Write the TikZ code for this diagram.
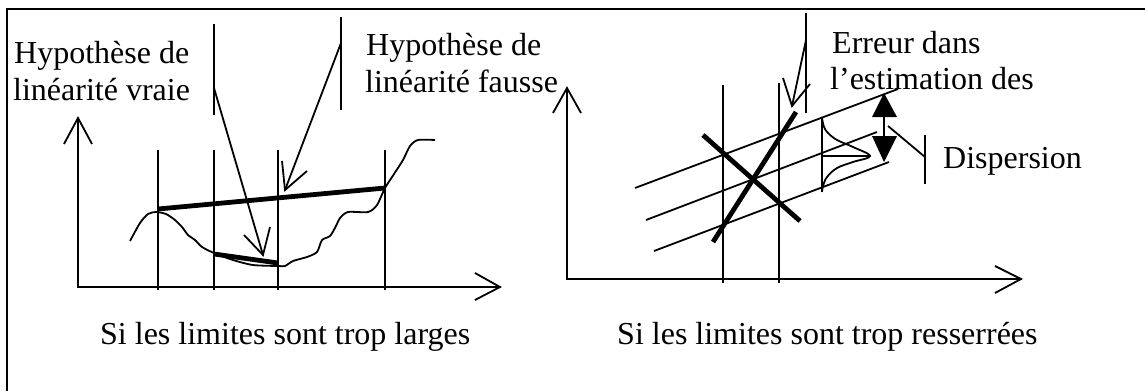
\documentclass[tikz,border=0pt]{standalone}
\usepackage{fontspec}
\setmainfont{Liberation Serif}
\begin{document}
\begin{tikzpicture}[x=1pt,y=-1pt,
  thinln/.style={line width=1.8pt},
  thickln/.style={line width=4.8pt},
  framel/.style={line width=2.2pt},
  lbl/.style={font=\fontsize{32}{37}\selectfont, inner sep=0pt, anchor=base west},
  solidhead/.style={fill=black}]
\useasboundingbox (0,0) rectangle (1145,391);

% frame
\coordinate (F1) at (7,391);
\coordinate (F2) at (7,9);
\coordinate (F3) at (1145,9);
\draw[framel] (F1) -- (F2) -- (F3);

% labels
\node[lbl] (hv1) at (14,63) {Hypothèse de};
\node[lbl] (hv2) at (13,100) {linéarité vraie};
\node[lbl] (hf1) at (366,55) {Hypothèse de};
\node[lbl] (hf2) at (365,92) {linéarité fausse};
\node[lbl] (ed1) at (832,53) {Erreur dans};
\node[lbl] (ed2) at (830,89) {l’estimation des};
\node[lbl] (disp) at (943,168) {Dispersion};
\node[lbl] (capL) at (100,344) {Si les limites sont trop larges};
\node[lbl] (capR) at (617,344) {Si les limites sont trop resserrées};

% ---------- left graph ----------
\coordinate (LO) at (78,287);
\coordinate (LYt) at (78,118);
\coordinate (LYa) at (64,144);
\coordinate (LYb) at (92,144);
\coordinate (LXt) at (500,287);
\coordinate (LXa) at (475,273);
\coordinate (LXb) at (475,300);
\draw[thinln] (LYt) -- (LO) -- (LXt);
\draw[thinln] (LYa) -- (LYt) -- (LYb);
\draw[thinln] (LXa) -- (LXt) -- (LXb);
\foreach \xx/\nm in {158/a,214/b,278/c,385/d}{
  \coordinate (LV\nm1) at (\xx,150);
  \coordinate (LV\nm2) at (\xx,290);
  \draw[thinln] (LV\nm1) -- (LV\nm2);
}
% leaders and arrows
\coordinate (LL1a) at (214,24);  \coordinate (LL1b) at (214,115);
\coordinate (LL2a) at (341,17);  \coordinate (LL2b) at (341,110);
\draw[thinln] (LL1a) -- (LL1b);
\draw[thinln] (LL2a) -- (LL2b);
\coordinate (A1s) at (214,88);  \coordinate (A1t) at (263,255);
\coordinate (A1a) at (244,235); \coordinate (A1b) at (270,227);
\draw[thinln] (A1s) -- (A1t);
\draw[thinln] (A1a) -- (A1t) -- (A1b);
\coordinate (A2s) at (341,43);  \coordinate (A2t) at (285,190);
\coordinate (A2a) at (282,161); \coordinate (A2b) at (307,171);
\draw[thinln] (A2s) -- (A2t);
\draw[thinln] (A2a) -- (A2t) -- (A2b);
% thick chords
\coordinate (T1a) at (158,209); \coordinate (T1b) at (385,188);
\coordinate (T2a) at (214,254); \coordinate (T2b) at (278,263);
\draw[thickln] (T1a) -- (T1b);
\draw[thickln] (T2a) -- (T2b);
% curve
\draw[thinln, line join=round] plot[smooth, tension=0.45] coordinates {
 (130,241) (140,223) (148,214) (156,212) (166,214) (175,220) (182,227)
 (188,235) (195,240) (202,247) (214,253) (233,260) (253,265) (278,266)
 (285,266) (293,261) (307,257) (317,252) (322,240) (330,236) (336,226)
 (340,218) (348,212) (368,212) (377,205) (385,188) (394,174) (403,160)
 (410,146) (418,140) (435,140)};

% ---------- right graph ----------
\coordinate (RO) at (567,279);
\coordinate (RYt) at (567,88);
\coordinate (RYa) at (553,113);
\coordinate (RYb) at (581,113);
\coordinate (RXt) at (1021,279);
\coordinate (RXa) at (995,266);
\coordinate (RXb) at (995,293);
\draw[thinln] (RYt) -- (RO) -- (RXt);
\draw[thinln] (RYa) -- (RYt) -- (RYb);
\draw[thinln] (RXa) -- (RXt) -- (RXb);
\coordinate (RV1a) at (723,85); \coordinate (RV1b) at (723,283);
\coordinate (RV2a) at (779,83); \coordinate (RV2b) at (779,283);
\draw[thinln] (RV1a) -- (RV1b);
\draw[thinln] (RV2a) -- (RV2b);
% leader and arrow for "Erreur"
\coordinate (RL1) at (806,13); \coordinate (RL2) at (806,113);
\draw[thinln] (RL1) -- (RL2);
\coordinate (A3s) at (806,40);  \coordinate (A3t) at (792,106);
\coordinate (A3a) at (783,78);  \coordinate (A3b) at (810,84);
\draw[thinln] (A3s) -- (A3t);
\draw[thinln] (A3a) -- (A3t) -- (A3b);
% parallel lines
\coordinate (P1a) at (635,188); \coordinate (P1b) at (898,89);
\coordinate (P2a) at (646,220); \coordinate (P2b) at (877,132);
\coordinate (P3a) at (654,251); \coordinate (P3b) at (889,162);
\draw[thinln] (P1a) -- (P1b);
\draw[thinln] (P2a) -- (P2b);
\draw[thinln] (P3a) -- (P3b);
% thick X
\coordinate (X1a) at (713,242); \coordinate (X1b) at (796,112);
\coordinate (X2a) at (703,135); \coordinate (X2b) at (800,221);
\draw[thickln] (X1a) -- (X1b);
\draw[thickln] (X2a) -- (X2b);
% gaussian
\coordinate (G1) at (822,118); \coordinate (G2) at (822,192);
\coordinate (Gh1) at (822,156); \coordinate (Gh2) at (870,156);
\draw[thinln] (G1) -- (G2);
\draw[thinln] (Gh1) -- (Gh2);
\draw[thinln] plot[smooth, tension=0.6] coordinates {
 (822,118) (824,127) (828,133) (837,140) (853,147) (870,156)
 (853,162) (837,168) (827,177) (823,186) (822,192)};
% double arrow
\coordinate (D1) at (884,117); \coordinate (D2) at (884,136);
\draw[thinln] (D1) -- (D2);
\coordinate (Dt) at (884,93); \coordinate (Dtl) at (872,117); \coordinate (Dtr) at (897,117);
\coordinate (Db) at (884,162); \coordinate (Dbl) at (872,136); \coordinate (Dbr) at (897,136);
\fill[solidhead] (Dt) -- (Dtl) -- (Dtr) -- cycle;
\fill[solidhead] (Db) -- (Dbl) -- (Dbr) -- cycle;
% dispersion leader
\coordinate (DL1) at (888,126); \coordinate (DL2) at (925,157);
\coordinate (DV1) at (925,135); \coordinate (DV2) at (925,184);
\draw[thinln] (DL1) -- (DL2);
\draw[thinln] (DV1) -- (DV2);
\end{tikzpicture}
\end{document}
